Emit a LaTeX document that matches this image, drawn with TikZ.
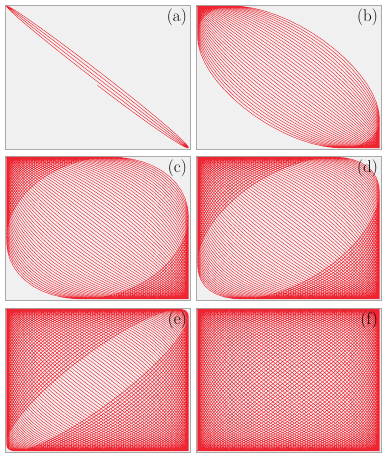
\documentclass[tikz,border=0pt]{standalone}
\usetikzlibrary{positioning}
\definecolor{ScanRed}{HTML}{EE2430}
\definecolor{PanelGray}{HTML}{F0F0F0}
\definecolor{FrameGray}{HTML}{A9A9A9}
\tikzset{
  panelbox/.style={rectangle, draw=FrameGray, fill=PanelGray, line width=0.8pt,
                   minimum width=185pt, minimum height=144pt,
                   inner sep=0pt, outer sep=0pt},
  tagtext/.style={font=\fontsize{17}{17}\selectfont, inner sep=0pt, text=black},
  scanline/.style={ScanRed, line width=0.45pt},
}
% phase drift per scan cycle, in degrees
\newcommand{\scandrift}{3}
% #1 panel, #2 full cycles, #3 end angle of the last part cycle
\newcommand{\scantrace}[3]{%
  \draw[scanline, shift={(#1.center)}]
    \foreach \n in {1,...,#2} {
      plot[domain=0:360, samples=49]
        ({91*cos(\x)}, {71*cos(\x+180-\scandrift*(\n-1+\x/360))})
    }
    plot[domain=0:#3, samples=25]
      ({91*cos(\x)}, {71*cos(\x+180-\scandrift*(#2+\x/360))});
}

\begin{document}
\begin{tikzpicture}[x=1pt, y=1pt, node distance=6pt]
  \useasboundingbox (0,0) rectangle (381,455);
  \node[panelbox] (pa) at (97.5,378) {};
  \node[panelbox, right=of pa] (pb) {};
  \node[panelbox, below=7pt of pa] (pc) {};
  \node[panelbox, right=of pc] (pd) {};
  \node[panelbox, below=8pt of pc] (pe) {};
  \node[panelbox, right=of pe] (pf) {};
  % scan traces, phase drifting away from 180 deg
  \scantrace{pa}{2}{90}
  \scantrace{pb}{18}{180}
  \scantrace{pc}{33}{180}
  \scantrace{pd}{40}{180}
  \scantrace{pe}{51}{180}
  \scantrace{pf}{60}{180}
  % panel tags
  \node[tagtext, below left=4pt and 3pt of pa.north east] (la) {(a)};
  \node[tagtext, below left=4pt and 3pt of pb.north east] (lb) {(b)};
  \node[tagtext, below left=4pt and 3pt of pc.north east] (lc) {(c)};
  \node[tagtext, below left=4pt and 3pt of pd.north east] (ld) {(d)};
  \node[tagtext, below left=4pt and 3pt of pe.north east] (le) {(e)};
  \node[tagtext, below left=4pt and 3pt of pf.north east] (lf) {(f)};
\end{tikzpicture}
\end{document}
